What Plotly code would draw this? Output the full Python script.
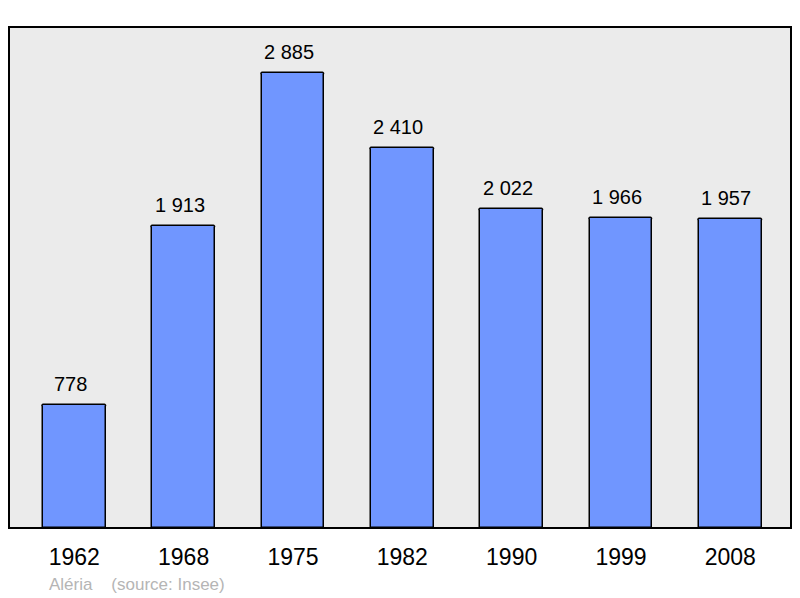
import plotly.graph_objects as go

years = ["1962", "1968", "1975", "1982", "1990", "1999", "2008"]
population = [778, 1913, 2885, 2410, 2022, 1966, 1957]
labels = ["778", "1 913", "2 885", "2 410", "2 022", "1 966", "1 957"]
source_text = "Aléria&nbsp;&nbsp;&nbsp;&nbsp;(source: Insee)"

fig = go.Figure()
fig.add_trace(go.Bar(
    x=list(range(len(years))), y=population,
    width=0.575,
    marker=dict(color="#7096ff", line=dict(color="#000000", width=1.5), cornerradius=2),
    hoverinfo="skip",
))

for i, (v, t) in enumerate(zip(population, labels)):
    fig.add_annotation(x=i, y=v, text=t, showarrow=False, yanchor="bottom",
                       yshift=8, xshift=-4, font=dict(size=20, color="#000000"))

fig.add_annotation(x=(49 - 9) / 782, y=(528 - 584) / 501, xref="paper", yref="paper",
                   text=source_text, showarrow=False, xanchor="left", yanchor="middle",
                   xshift=-2, font=dict(size=17, color="#b5b5b5"))

fig.add_shape(type="rect", xref="paper", yref="paper", x0=0, x1=1, y0=0, y1=1,
              line=dict(color="#000000", width=2), layer="above")

fig.update_layout(
    width=800, height=598,
    margin=dict(l=9, r=9, t=27, b=70),
    paper_bgcolor="#ffffff", plot_bgcolor="#ebebeb",
    font=dict(family="Liberation Sans, Arial, sans-serif"),
    showlegend=False,
    bargap=0,
    xaxis=dict(range=[-0.597, 6.555], tickmode="array", tickvals=list(range(len(years))),
               ticktext=years, showgrid=False, zeroline=False, ticks="outside",
               ticklen=8, tickcolor="rgba(0,0,0,0)", tickfont=dict(size=23, color="#000000"),
               fixedrange=True),
    yaxis=dict(range=[0, 3177], showgrid=False, zeroline=False, showticklabels=False,
               fixedrange=True),
)

fig.write_html("out.html", config={"displayModeBar": False},
               post_script="document.body.style.margin='0';document.body.style.overflow='hidden';")
